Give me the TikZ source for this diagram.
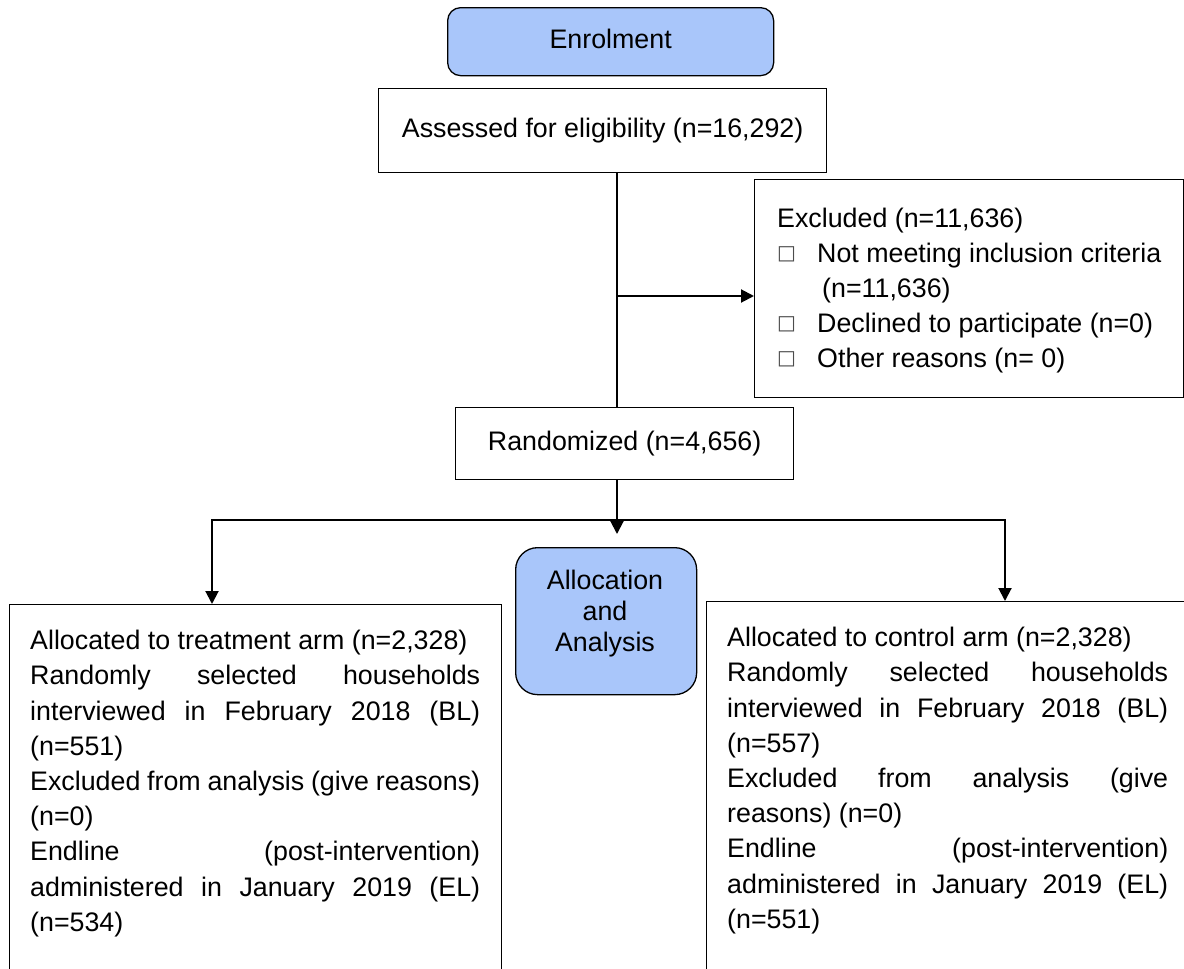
\documentclass[tikz,border=0pt]{standalone}
\usepackage{fontspec}
\setmainfont{Liberation Sans}
\newfontfamily\dejavu{DejaVu Sans}
\usetikzlibrary{arrows.meta}
\definecolor{phaseblue}{HTML}{A9C6FA}
\newcommand{\bulbox}{\raisebox{3pt}{\dejavu\fontsize{20}{20}\selectfont\color{black!70}□}}
\begin{document}
\begin{tikzpicture}[x=1pt,y=-1pt,
  box/.style={draw=black, line width=1.3pt, inner sep=0pt, anchor=north west},
  phase/.style={box, fill=phaseblue, rounded corners=13pt},
  txt/.style={font=\fontsize{26.8}{35.2}\selectfont, inner sep=0pt},
  body/.style={txt, anchor=north west, align=justify,
    execute at begin node={\parindent=0pt\tolerance=10000\hyphenpenalty=10000\emergencystretch=20pt}},
  conn/.style={line width=2pt},
  arr/.style={conn, -{Triangle[width=13pt,length=13pt]}}]
\useasboundingbox (0,0) rectangle (1184,969);
\clip (0,0) rectangle (1184,969);

% phase boxes
\node[phase, minimum width=326pt, minimum height=68pt, txt, text depth=6pt] (enrol) at (447,7) {Enrolment};
\node[phase, minimum width=181pt, minimum height=147pt, rounded corners=22pt] (alloc) at (515,547) {};
\node[txt, align=center, font=\fontsize{26.8}{31}\selectfont] (alloctext) at (605,614) {Allocation\\and\\Analysis};

% main boxes
\node[box, minimum width=448pt, minimum height=84pt, txt] (assess) at (378,88) {Assessed for eligibility (n=16,292)};
\node[box, minimum width=429pt, minimum height=218pt] (excl) at (754,179) {};
\node[txt, anchor=north west, align=left] (excltext) at (777,207.5) {%
Excluded (n=11,636)\\
\makebox[40pt][l]{\bulbox}Not meeting inclusion criteria\\
\hspace*{45pt}(n=11,636)\\
\makebox[40pt][l]{\bulbox}Declined to participate (n=0)\\
\makebox[40pt][l]{\bulbox}Other reasons (n= 0)};
\node[box, minimum width=338pt, minimum height=72pt, txt] (random) at (455,407) {Randomized (n=4,656)};

% arm boxes (extend beyond the picture edge)
\node[box, minimum width=492pt, minimum height=420pt] (treat) at (9,604) {};
\node[body, text width=450pt] (treattext) at (30,630) {%
Allocated to treatment arm (n=2,328)\par
Randomly selected households\linebreak interviewed in February 2018 (BL)\linebreak (n=551)\par
Excluded from analysis (give reasons)\linebreak (n=0)\par
Endline (post-intervention)\linebreak administered in January 2019 (EL)\linebreak (n=534)};
\node[box, minimum width=520pt, minimum height=420pt] (ctrl) at (706,601) {};
\node[body, text width=441pt] (ctrltext) at (727,627) {%
Allocated to control arm (n=2,328)\par
Randomly selected households\linebreak interviewed in February 2018 (BL)\linebreak (n=557)\par
Excluded from analysis (give\linebreak reasons) (n=0)\par
Endline (post-intervention)\linebreak administered in January 2019 (EL)\linebreak (n=551)};

% connectors
\coordinate (j1) at (617,296);
\coordinate (tip) at (617,534);
\coordinate (lft) at (212,520);
\coordinate (rgt) at (1005,520);
\draw[conn] (j1 |- assess.south) -- (j1 |- random.north);
\draw[arr] (j1) -- (j1 -| excl.west);
\draw[arr] (j1 |- random.south) -- (tip);
\draw[conn, line cap=rect] (lft) -- (rgt);
\draw[arr] (lft) -- (lft |- treat.north);
\draw[arr] (rgt) -- (rgt |- ctrl.north);
\end{tikzpicture}
\end{document}
